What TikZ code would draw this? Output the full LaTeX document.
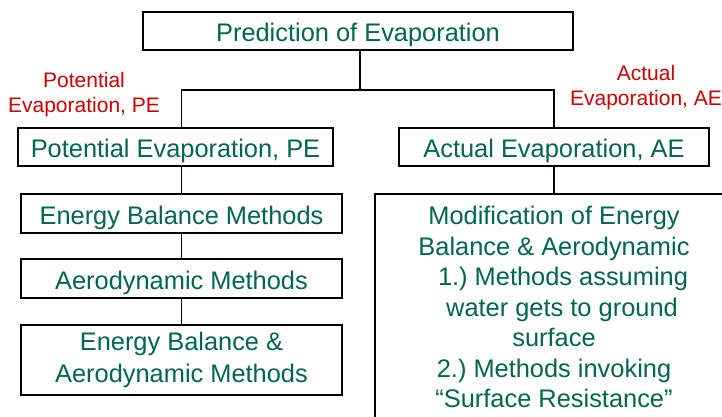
\documentclass[tikz,border=0pt]{standalone}
\usepackage{fontspec}
\setmainfont{Liberation Sans}
\usepackage{xcolor}
\definecolor{EvapGreen}{HTML}{00664F}
\definecolor{EvapRed}{HTML}{CC0000}
\usepackage{tikz}
\usetikzlibrary{positioning}

\begin{document}
\begin{tikzpicture}[x=1pt, y=-1pt,
        box/.style={draw, line width=1.4pt, inner sep=0pt, align=center, text=EvapGreen,
            font=\fontsize{25.4}{31}\selectfont, execute at begin node={\rule{0pt}{27pt}}},
        note/.style={align=center, text=EvapRed, font=\fontsize{21}{25}\selectfont},
        link/.style={line width=1.4pt}]
        \useasboundingbox (0,0) rectangle (722,416);
        \clip (0,0) rectangle (722,416);

        \node[box, minimum width=430pt, minimum height=38pt] (pred) at (358,31) {Prediction of Evaporation};
        \node[box, minimum width=315pt, minimum height=38pt] (pe) at (175.5,147) {Potential Evaporation, PE};
        \node[box, minimum width=310pt, minimum height=38pt] (ae) at (554,147) {Actual Evaporation, AE};

        \node[note] (penote) at (84,95) {Potential\\Evaporation, PE};
        \node[note] (aenote) at (646,88) {Actual\\Evaporation, AE};

        \node[box, minimum width=321pt, minimum height=39pt] (ebm) at (181.5,213.5) {Energy Balance Methods};
        \node[box, minimum width=321pt, minimum height=39pt] (aero) at (181.5,278.5) {Aerodynamic Methods};
        \node[box, minimum width=321pt, minimum height=70pt, font=\fontsize{25.4}{32}\selectfont] (eba) at (181.5,360)
            {Energy Balance \&\\Aerodynamic Methods};
        \node[box, minimum width=358pt, minimum height=226pt, font=\fontsize{25.4}{30.5}\selectfont] (mod) at (554,307)
            {Modification of Energy\\Balance \& Aerodynamic\\\hspace*{18pt}1.)\ Methods assuming\\\hspace*{16pt}water gets to ground\\surface\\2.)\ Methods invoking\\``Surface Resistance''};

        \coordinate (bus) at (360,90);
        \draw[link] (pred.south -| bus) -- (bus);
        \draw[link] (ebm.north |- pe.north) |- (bus) -| (ae.north);
        \draw[link] (pe.south -| ebm.north) -- (ebm.north);
        \draw[link] (ebm) -- (aero);
        \draw[link] (aero) -- (eba);
        \draw[link] (ae) -- (mod);
    \end{tikzpicture}
\end{document}
